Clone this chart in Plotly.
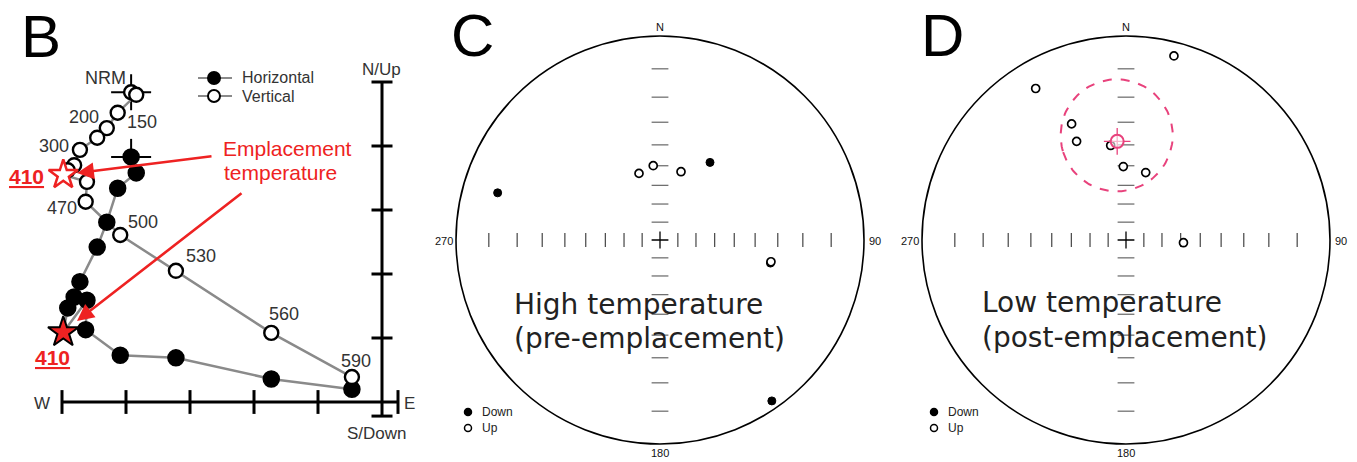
import numpy as np
import plotly.graph_objects as go

W, H = 1357, 462

# ---------------- Panel B: orthogonal vector plot (1 unit = 1 tick interval)
step_east  = [-3.92, -3.84, -4.13, -4.30, -4.45, -4.72, -4.81, -4.91, -4.98, -4.61, -4.63, -4.09, -3.22, -1.73, -0.47]
step_north = [3.83, 3.58, 3.34, 2.81, 2.42, 1.88, 1.64, 1.47, 1.09, 1.59, 1.13, 0.73, 0.69, 0.36, 0.20]
step_up    = [4.84, 4.80, 4.52, 4.28, 4.13, 3.94, 3.70, 3.62, 3.55, 3.44, 3.13, 2.61, 2.05, 1.08, 0.39]
emplacement_step = 8
b_xticks = [-5, -4, -3, -2, -1, 0.25]
b_yticks = [1, 2, 3, 4, 5, -0.22]
b_labels = ["NRM", "150", "200", "300", "470", "500", "530", "560", "590"]

# ---------------- Panel C: high temperature directions (dec, inc in degrees)
c_dec = [286.2, 32.8, 342.5, 354.8, 17.1, 101.8, 101.1, 145.2]
c_inc = [10.7, 41.3, -52.2, -49.8, -51.4, 32.1, -32.0, 2.3]

# ---------------- Panel D: low temperature directions
d_dec = [14.6, 329.2, 334.9, 333.4, 350.8, 357.9, 16.3, 92.7]
d_inc = [-4.0, -8.3, -25.7, -33.2, -39.7, -50.4, -52.0, -58.5]
d_mean_dec, d_mean_inc, d_a95 = 354.9, -38.2, 24.8

net_ticks_inc = [10, 20, 30, 40, 50, 60, 70, 80]

# ---------------- geometry helpers (layout only)
B_OX, B_OY, B_S = 382.0, 402.0, 64.0       # origin pixel, px per unit
C_CX, D_CX, NET_CY, NET_R = 660.0, 1126.0, 240.0, 204.0


def paper(px, py):
    return px / W, 1 - py / H


def proj(dec, inc):
    dec = np.radians(np.asarray(dec, float))
    inc = np.radians(np.abs(np.asarray(inc, float)))
    r = np.tan((np.pi / 2 - inc) / 2)
    return r * np.sin(dec), r * np.cos(dec)


def small_circle(dec, inc, a95, n=181):
    d, i, a = np.radians(dec), np.radians(inc), np.radians(a95)
    m = np.array([np.cos(i) * np.cos(d), np.cos(i) * np.sin(d), np.sin(i)])
    ref = np.array([0, 0, 1.0]) if abs(m[2]) < 0.9 else np.array([1.0, 0, 0])
    u = np.cross(m, ref); u /= np.linalg.norm(u)
    v = np.cross(m, u)
    phi = np.linspace(0, 2 * np.pi, n)
    vec = (np.cos(a) * m[:, None] + np.sin(a) * (np.cos(phi) * u[:, None] + np.sin(phi) * v[:, None]))
    decs = np.degrees(np.arctan2(vec[1], vec[0]))
    incs = np.degrees(np.arcsin(vec[2]))
    return proj(decs, incs)


fig = go.Figure()
GRAY = "#8a8a8a"
RED = "#ee2222"
FONT = "Liberation Sans, Arial, sans-serif"

# ---------- Panel B traces (axis x / y)
ea = np.array(step_east); no = np.array(step_north); upv = np.array(step_up)
mask = np.arange(len(ea)) != emplacement_step

# axes
fig.add_trace(go.Scatter(x=[b_xticks[0], b_xticks[-1]], y=[0, 0], mode="lines",
                         line=dict(color="black", width=3), xaxis="x", yaxis="y", showlegend=False, hoverinfo="skip"))
fig.add_trace(go.Scatter(x=[0, 0], y=[b_yticks[-1], max(b_yticks)], mode="lines",
                         line=dict(color="black", width=3), xaxis="x", yaxis="y", showlegend=False, hoverinfo="skip"))
fig.add_trace(go.Scatter(x=b_xticks, y=[0] * len(b_xticks), mode="markers",
                         marker=dict(symbol="line-ns", size=17, line=dict(color="black", width=3)),
                         xaxis="x", yaxis="y", showlegend=False, hoverinfo="skip"))
fig.add_trace(go.Scatter(x=[0] * len(b_yticks), y=b_yticks, mode="markers",
                         marker=dict(symbol="line-ew", size=15, line=dict(color="black", width=3)),
                         xaxis="x", yaxis="y", showlegend=False, hoverinfo="skip"))

# NRM crosses
hl = 20 / B_S
for yy in (no[0], upv[0]):
    fig.add_trace(go.Scatter(x=[ea[0] - hl, ea[0] + hl, None, ea[0], ea[0]],
                             y=[yy, yy, None, yy - hl * 0.9, yy + hl * 0.9], mode="lines",
                             line=dict(color="black", width=2), xaxis="x", yaxis="y",
                             showlegend=False, hoverinfo="skip"))

# connecting lines
fig.add_trace(go.Scatter(x=ea, y=no, mode="lines", line=dict(color=GRAY, width=2.5),
                         xaxis="x", yaxis="y", showlegend=False, hoverinfo="skip"))
fig.add_trace(go.Scatter(x=ea, y=upv, mode="lines", line=dict(color=GRAY, width=2.5),
                         xaxis="x", yaxis="y", showlegend=False, hoverinfo="skip"))
# points
fig.add_trace(go.Scatter(x=ea[mask], y=no[mask], mode="markers",
                         marker=dict(size=16, color="black", line=dict(color="black", width=1.5)),
                         xaxis="x", yaxis="y", showlegend=False, cliponaxis=False))
fig.add_trace(go.Scatter(x=ea[mask], y=upv[mask], mode="markers",
                         marker=dict(size=14, color="white", line=dict(color="black", width=2.4)),
                         xaxis="x", yaxis="y", showlegend=False, cliponaxis=False))
# emplacement stars
k = emplacement_step
fig.add_trace(go.Scatter(x=[ea[k]], y=[upv[k]], mode="markers",
                         marker=dict(symbol="star", size=22, color="white", line=dict(color=RED, width=2.5)),
                         xaxis="x", yaxis="y", showlegend=False, cliponaxis=False))
fig.add_trace(go.Scatter(x=[ea[k]], y=[no[k]], mode="markers",
                         marker=dict(symbol="star", size=23, color=RED, line=dict(color="black", width=2)),
                         xaxis="x", yaxis="y", showlegend=False, cliponaxis=False))

# legend of panel B
def bx(px):
    return (px - B_OX) / B_S


def by(py):
    return (B_OY - py) / B_S


for ly, fill in ((78, "black"), (96, "white")):
    fig.add_trace(go.Scatter(x=[bx(198), bx(232)], y=[by(ly), by(ly)], mode="lines",
                             line=dict(color=GRAY, width=2), xaxis="x", yaxis="y",
                             showlegend=False, hoverinfo="skip"))
    fig.add_trace(go.Scatter(x=[bx(214)], y=[by(ly)], mode="markers",
                             marker=dict(size=12, color=fill, line=dict(color="black", width=2)),
                             xaxis="x", yaxis="y", showlegend=False))

# ---------- stereonets
def add_net(xa, ya, dec, inc):
    rt = np.tan(np.radians(90 - np.array(net_ticks_inc)) / 2)
    fig.add_trace(go.Scatter(x=np.concatenate([rt, -rt]), y=np.zeros(2 * len(rt)), mode="markers",
                             marker=dict(symbol="line-ns", size=10, line=dict(color="#444444", width=1.2)),
                             xaxis=xa, yaxis=ya, showlegend=False, hoverinfo="skip"))
    fig.add_trace(go.Scatter(x=np.zeros(2 * len(rt)), y=np.concatenate([rt, -rt]), mode="markers",
                             marker=dict(symbol="line-ew", size=12, line=dict(color="#666666", width=1.2)),
                             xaxis=xa, yaxis=ya, showlegend=False, hoverinfo="skip"))
    fig.add_trace(go.Scatter(x=[0], y=[0], mode="markers",
                             marker=dict(symbol="cross-thin", size=12, line=dict(color="black", width=1.3)),
                             xaxis=xa, yaxis=ya, showlegend=False, hoverinfo="skip"))
    x, y = proj(dec, inc)
    inc = np.array(inc)
    down = inc >= 0
    fig.add_trace(go.Scatter(x=x[down], y=y[down], mode="markers",
                             marker=dict(size=8, color="black", line=dict(color="black", width=1)),
                             xaxis=xa, yaxis=ya, showlegend=False, cliponaxis=False))
    fig.add_trace(go.Scatter(x=x[~down], y=y[~down], mode="markers",
                             marker=dict(size=8, color="white", line=dict(color="black", width=1.7)),
                             xaxis=xa, yaxis=ya, showlegend=False, cliponaxis=False))


add_net("x2", "y2", c_dec, c_inc)
add_net("x3", "y3", d_dec, d_inc)

# cone of confidence and mean in D
PINK = "#e8427c"
sx, sy = small_circle(d_mean_dec, d_mean_inc, d_a95)
fig.add_trace(go.Scatter(x=sx, y=sy, mode="lines", line=dict(color=PINK, width=2, dash="dash"),
                         xaxis="x3", yaxis="y3", showlegend=False, hoverinfo="skip"))
mx, my = proj([d_mean_dec], [d_mean_inc])
fig.add_trace(go.Scatter(x=mx, y=my, mode="markers",
                         marker=dict(symbol="cross-thin", size=19, line=dict(color=PINK, width=1.3)),
                         xaxis="x3", yaxis="y3", showlegend=False))
fig.add_trace(go.Scatter(x=mx, y=my, mode="markers",
                         marker=dict(size=13, color="rgba(255,255,255,0.6)", line=dict(color=PINK, width=2)),
                         xaxis="x3", yaxis="y3", showlegend=False))

# Down / Up legends
for cx, xa, ya in ((C_CX, "x2", "y2"), (D_CX, "x3", "y3")):
    lx = (cx - 192 - cx) / NET_R
    for py, fill in ((412, "black"), (428, "white")):
        fig.add_trace(go.Scatter(x=[lx], y=[(NET_CY - py) / NET_R], mode="markers",
                                 marker=dict(size=7, color=fill, line=dict(color="black", width=1.5)),
                                 xaxis=xa, yaxis=ya, showlegend=False, cliponaxis=False))

# ---------- shapes (primitive circles)
shapes = []
for xa, ya in (("x2", "y2"), ("x3", "y3")):
    shapes.append(dict(type="circle", xref=xa, yref=ya, x0=-1, y0=-1, x1=1, y1=1,
                       line=dict(color="black", width=1.6), layer="below"))

# ---------- annotations
ann = []


def text(px, py, s, size, color="#222222", family=FONT, xanchor="center"):
    x, y = paper(px, py)
    ann.append(dict(x=x, y=y, xref="paper", yref="paper", text=s, showarrow=False,
                    font=dict(size=size, color=color, family=family), xanchor=xanchor, yanchor="middle"))


# panel letters
text(41, 36, "B", 60, "black")
text(472, 35, "C", 60, "black")
text(942, 35, "D", 60, "black")

# panel B labels
label_px = [(105, 78), (142, 122), (84, 117), (54, 146), (62, 208), (143, 222), (201, 256), (284, 314), (356, 361)]
for (px, py), s in zip(label_px, b_labels):
    text(px, py, s, 18, "#333333")
text(381, 69, "N/Up", 17, "#333333")
text(377, 433, "S/Down", 17, "#333333")
text(42, 403, "W", 17, "#333333")
text(409, 403, "E", 17, "#333333")
text(240, 78, "Horizontal", 16, "#333333", xanchor="left")
text(240, 97, "Vertical", 16, "#333333", xanchor="left")
text(26, 176, "<b><u>410</u></b>", 21, RED)
text(52, 357, "<b><u>410</u></b>", 21, RED)
text(221, 148, "Emplacement", 21, RED, xanchor="left")
text(222, 173, "temperature", 21, RED, xanchor="left")

# arrows in panel B
for (hx, hy), (tx, ty) in (((77, 173), (213, 156)), ((77, 321), (243, 192))):
    ann.append(dict(x=bx(hx), y=by(hy), ax=bx(tx), ay=by(ty), xref="x", yref="y", axref="x", ayref="y",
                    text="", showarrow=True, arrowhead=2, arrowsize=1.3, arrowwidth=2.6, arrowcolor=RED,
                    standoff=0))

# net labels
for cx in (C_CX, D_CX):
    text(cx, 27, "N", 11, "#111111")
    text(cx, 453, "180", 11, "#111111")
    text(cx + 215, 241, "90", 11, "#111111")
    text(cx - 216, 241, "270", 11, "#111111")
    text(cx - 180, 412, "Down", 12, "#222222", xanchor="left")
    text(cx - 180, 428, "Up", 12, "#222222", xanchor="left")

text(512, 304, "High temperature", 28, "#222222", "DejaVu Sans", "left")
text(512, 338, "(pre-emplacement)", 28, "#222222", "DejaVu Sans", "left")
text(980, 302, "Low temperature", 28, "#222222", "DejaVu Sans", "left")
text(980, 337, "(post-emplacement)", 28, "#222222", "DejaVu Sans", "left")


# ---------- axes layout
def axis_pair(px0, px1, py0, py1, cx, cy, s):
    xr = [(px0 - cx) / s, (px1 - cx) / s]
    yr = [(cy - py1) / s, (cy - py0) / s]
    xd = [px0 / W, px1 / W]
    yd = [1 - py1 / H, 1 - py0 / H]
    xa = dict(domain=xd, range=xr, visible=False, fixedrange=True)
    ya = dict(domain=yd, range=yr, visible=False, fixedrange=True)
    return xa, ya


xa1, ya1 = axis_pair(0, 440, 0, 462, B_OX, B_OY, B_S)
xa2, ya2 = axis_pair(450, 870, 20, 460, C_CX, NET_CY, NET_R)
xa3, ya3 = axis_pair(916, 1336, 20, 460, D_CX, NET_CY, NET_R)
ya1["anchor"] = "x"; xa1["anchor"] = "y"
xa2["anchor"] = "y2"; ya2["anchor"] = "x2"
xa3["anchor"] = "y3"; ya3["anchor"] = "x3"

fig.update_layout(
    width=W, height=H, margin=dict(l=0, r=0, t=0, b=0),
    paper_bgcolor="white", plot_bgcolor="white",
    xaxis=xa1, yaxis=ya1, xaxis2=xa2, yaxis2=ya2, xaxis3=xa3, yaxis3=ya3,
    shapes=shapes, annotations=ann, showlegend=False,
    font=dict(family=FONT),
)

fig.write_html("out.html")
